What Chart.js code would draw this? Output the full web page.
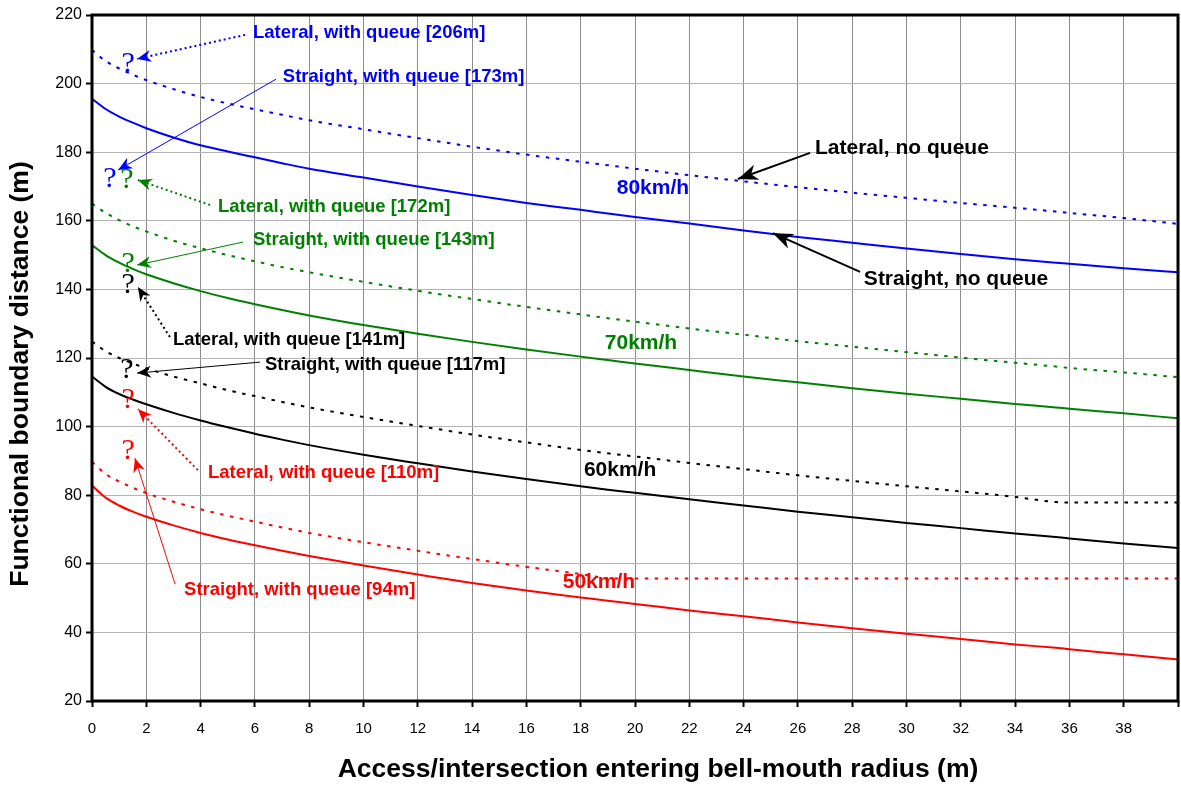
<!DOCTYPE html>
<html>
<head>
<meta charset="utf-8">
<script src="https://cdn.jsdelivr.net/npm/chart.js@4.4.1/dist/chart.umd.min.js"></script>
<style>
  html, body { margin: 0; padding: 0; background: #fff; }
  #c { display: block; }
</style>
</head>
<body>
<canvas id="c" width="1181" height="785"></canvas>
<script>
// ---- DATA ----
const xs = [0,0.5,1,1.5,2,3,4,5,6,7,8,10,12,14,16,18,19,20,22,24,26,28,30,32,34,35.5,36,38,40];

const straight80 = [195.6,192.6,190.4,188.6,187.0,184.3,182.0,180.2,178.5,176.8,175.2,172.6,170.0,167.5,165.2,163.2,162.1,161.1,159.2,157.2,155.3,153.6,151.9,150.3,148.8,147.8,147.5,146.2,145.0];
const lateral80  = [209.8,206.6,204.4,202.6,201.0,198.4,196.1,194.2,192.5,190.9,189.3,186.7,184.1,181.6,179.3,177.2,176.2,175.2,173.3,171.5,169.8,168.2,166.7,165.2,163.8,162.7,162.3,160.8,159.1];
const straight70 = [152.9,150.0,147.8,146.0,144.4,141.8,139.5,137.5,135.7,134.0,132.4,129.6,127.1,124.7,122.5,120.4,119.4,118.4,116.5,114.6,112.9,111.2,109.6,108.1,106.6,105.6,105.2,103.9,102.4];
const lateral70  = [165.0,162.3,160.2,158.4,156.9,154.2,152.0,150.0,148.2,146.5,145.0,142.2,139.6,137.2,134.9,132.7,131.6,130.6,128.6,126.8,124.9,123.3,121.7,120.1,118.6,117.5,117.1,115.8,114.4];
const straight60 = [114.6,111.6,109.5,107.9,106.5,104.0,101.8,99.8,97.9,96.2,94.6,91.8,89.3,86.9,84.7,82.6,81.6,80.7,78.8,77.0,75.2,73.6,71.9,70.4,68.8,67.8,67.4,65.9,64.6];
const lateral60  = [124.8,122.0,120.0,118.4,117.0,114.6,112.6,110.6,108.9,107.2,105.6,102.8,100.2,97.7,95.4,93.2,92.2,91.3,89.4,87.6,85.8,84.2,82.6,81.1,79.5,78.0,77.9,77.9,77.9];
const straight50 = [82.8,79.3,77.0,75.2,73.7,71.2,69.0,67.1,65.4,63.8,62.3,59.5,56.9,54.4,52.2,50.2,49.2,48.3,46.4,44.7,42.9,41.2,39.6,38.1,36.5,35.5,35.1,33.6,32.1];
const lateral50  = [89.7,86.2,84.0,82.2,80.6,78.1,75.9,74.0,72.3,70.6,69.0,66.3,63.8,61.4,59.1,57.0,55.8,55.7,55.7,55.7,55.7,55.7,55.7,55.7,55.7,55.7,55.7,55.7,55.7];

const xTickValues = [0,2,4,6,8,10,12,14,16,18,20,22,24,26,28,30,32,34,36,38];
const yTickValues = [20,40,60,80,100,120,140,160,180,200,220];

const xTitle = 'Access/intersection entering bell-mouth radius (m)';
const yTitle = 'Functional boundary distance (m)';

// ---- ANNOTATIONS (in data coordinates) ----
const BLUE = '#0000ff', GREEN = '#008000', BLACK = '#000000', RED = '#ff0000';
const queueNotes = [
  { text: 'Lateral, with queue [206m]',  color: BLUE,  lx: 5.93, ly: 214.75, fx: 5.64, fy: 214.2, tx: 1.66, ty: 207.2, dotted: true,  qx: 1.33, qy: 206.3 },
  { text: 'Straight, with queue [173m]', color: BLUE,  lx: 7.03, ly: 201.9,  fx: 6.78, fy: 201.3, tx: 0.96, ty: 174.8, dotted: false, qx: 0.66, qy: 172.8 },
  { text: 'Lateral, with queue [172m]',  color: GREEN, lx: 4.64, ly: 164.0,  fx: 4.35, fy: 164.6, tx: 1.69, ty: 171.9, dotted: true,  qx: 1.29, qy: 172.5 },
  { text: 'Straight, with queue [143m]', color: GREEN, lx: 5.93, ly: 154.4,  fx: 5.56, fy: 153.8, tx: 1.66, ty: 147.1, dotted: false, qx: 1.33, qy: 148.0 },
  { text: 'Lateral, with queue [141m]',  color: BLACK, lx: 2.98, ly: 125.2,  fx: 2.87, fy: 126.1, tx: 1.69, ty: 140.7, dotted: true,  qx: 1.33, qy: 141.9 },
  { text: 'Straight, with queue [117m]', color: BLACK, lx: 6.37, ly: 118.0,  fx: 6.19, fy: 118.8, tx: 1.66, ty: 115.6, dotted: false, qx: 1.29, qy: 117.1 },
  { text: 'Lateral, with queue [110m]',  color: RED,   lx: 4.27, ly: 86.5,   fx: 3.90, fy: 87.3,  tx: 1.69, ty: 105.1, dotted: true,  qx: 1.33, qy: 108.3 },
  { text: 'Straight, with queue [94m]',  color: RED,   lx: 3.39, ly: 52.4,   fx: 3.06, fy: 54.1,  tx: 1.58, ty: 90.8,  dotted: false, qx: 1.33, qy: 93.5 }
];
const noQueueNotes = [
  { text: 'Lateral, no queue',  lx: 26.63, ly: 181.2, fx: 26.45, fy: 179.8, tx: 23.79, ty: 172.2 },
  { text: 'Straight, no queue', lx: 28.43, ly: 143.0, fx: 28.29, fy: 145.1, tx: 25.08, ty: 156.4 }
];
const speedLabels = [
  { text: '80km/h', color: BLUE,  x: 20.66, y: 169.6 },
  { text: '70km/h', color: GREEN, x: 20.22, y: 124.4 },
  { text: '60km/h', color: BLACK, x: 19.45, y: 87.3 },
  { text: '50km/h', color: RED,   x: 18.67, y: 54.7 }
];

const FONT = '"Liberation Sans", Arial, Helvetica, sans-serif';

function series(vals, color, dotted) {
  return {
    data: xs.map((x, i) => ({ x: x, y: vals[i] })),
    borderColor: color,
    borderWidth: 2,
    borderDash: dotted ? [3.5, 6.5] : [],
    pointRadius: 0,
    fill: false,
    cubicInterpolationMode: 'monotone'
  };
}

function arrowHead(ctx, x1, y1, x2, y2, L, W, color) {
  const a = Math.atan2(y2 - y1, x2 - x1);
  const c = Math.cos(a), s = Math.sin(a);
  ctx.save();
  ctx.setLineDash([]);
  ctx.fillStyle = color;
  ctx.beginPath();
  ctx.moveTo(x2, y2);
  ctx.lineTo(x2 - L * c - W * s, y2 - L * s + W * c);
  ctx.lineTo(x2 - 0.7 * L * c, y2 - 0.7 * L * s);
  ctx.lineTo(x2 - L * c + W * s, y2 - L * s - W * c);
  ctx.closePath();
  ctx.fill();
  ctx.restore();
}

const annoPlugin = {
  id: 'anno',
  afterDatasetsDraw(chart) {
    const ctx = chart.ctx;
    const xs_ = chart.scales.x, ys_ = chart.scales.y;
    const ca = chart.chartArea;
    const X = v => xs_.getPixelForValue(v), Y = v => ys_.getPixelForValue(v);
    ctx.save();

    // frame
    ctx.strokeStyle = '#000';
    ctx.lineWidth = 3;
    ctx.setLineDash([]);
    ctx.strokeRect(ca.left, ca.top, ca.right - ca.left, ca.bottom - ca.top);

    // queue notes
    queueNotes.forEach(n => {
      const x1 = X(n.fx), y1 = Y(n.fy), x2 = X(n.tx), y2 = Y(n.ty);
      ctx.strokeStyle = n.color;
      if (n.dotted) { ctx.lineWidth = 2; ctx.setLineDash([2, 3]); }
      else { ctx.lineWidth = 1; ctx.setLineDash([]); }
      ctx.beginPath(); ctx.moveTo(x1, y1); ctx.lineTo(x2, y2); ctx.stroke();
      ctx.setLineDash([]);
      arrowHead(ctx, x1, y1, x2, y2, 14, 6, n.color);
      ctx.fillStyle = n.color;
      ctx.font = 'bold 18.5px ' + FONT;
      ctx.textAlign = 'left'; ctx.textBaseline = 'middle';
      ctx.fillText(n.text, X(n.lx), Y(n.ly));
      ctx.font = '30px "Liberation Serif", "Times New Roman", serif';
      ctx.textAlign = 'center';
      ctx.fillText('?', X(n.qx), Y(n.qy) + 2);
    });

    // no-queue notes
    noQueueNotes.forEach(n => {
      const x1 = X(n.fx), y1 = Y(n.fy), x2 = X(n.tx), y2 = Y(n.ty);
      ctx.strokeStyle = '#000'; ctx.lineWidth = 2; ctx.setLineDash([]);
      ctx.beginPath(); ctx.moveTo(x1, y1); ctx.lineTo(x2, y2); ctx.stroke();
      arrowHead(ctx, x1, y1, x2, y2, 20, 8, '#000');
      ctx.fillStyle = '#000';
      ctx.font = 'bold 21px ' + FONT;
      ctx.textAlign = 'left'; ctx.textBaseline = 'middle';
      ctx.fillText(n.text, X(n.lx), Y(n.ly));
    });

    // speed labels
    speedLabels.forEach(s => {
      ctx.fillStyle = s.color;
      ctx.font = 'bold 21px ' + FONT;
      ctx.textAlign = 'center'; ctx.textBaseline = 'middle';
      ctx.fillText(s.text, X(s.x), Y(s.y));
    });

    // axis titles
    ctx.fillStyle = '#000';
    ctx.font = 'bold 26.5px ' + FONT;
    ctx.textAlign = 'center'; ctx.textBaseline = 'middle';
    ctx.fillText(xTitle, 658, 770);
    ctx.translate(21, 374);
    ctx.rotate(-Math.PI / 2);
    ctx.fillText(yTitle, 0, 0);
    ctx.restore();
  }
};

new Chart(document.getElementById('c'), {
  type: 'line',
  data: {
    datasets: [
      series(straight80, BLUE, false),
      series(lateral80, BLUE, true),
      series(straight70, GREEN, false),
      series(lateral70, GREEN, true),
      series(straight60, BLACK, false),
      series(lateral60, BLACK, true),
      series(straight50, RED, false),
      series(lateral50, RED, true)
    ]
  },
  options: {
    responsive: false,
    animation: false,
    devicePixelRatio: 1,
    layout: { padding: { left: 0, right: 3, top: 15, bottom: 0 } },
    plugins: { legend: { display: false }, tooltip: { enabled: false } },
    scales: {
      x: {
        type: 'linear',
        min: 0, max: 40,
        afterBuildTicks: s => { s.ticks = xTickValues.concat([40]).map(v => ({ value: v })); },
        afterFit: s => { s.height = 84; s.paddingLeft = 0; s.paddingRight = 0; },
        grid: { color: '#8c8c8c', lineWidth: 1, tickColor: '#000', tickLength: 6, tickWidth: 2 },
        border: { display: false },
        ticks: {
          autoSkip: false, maxRotation: 0, padding: 13,
          color: '#000', font: { family: FONT, size: 15 },
          callback: v => (xTickValues.includes(v) ? String(v) : '')
        },
        title: { display: false }
      },
      y: {
        type: 'linear',
        min: 20, max: 220,
        afterBuildTicks: s => { s.ticks = yTickValues.map(v => ({ value: v })); },
        afterFit: s => { s.width = 92; },
        grid: { color: '#b4b4b4', lineWidth: 1, tickColor: '#000', tickLength: 6, tickWidth: 2 },
        border: { display: false },
        ticks: { padding: 4, color: '#000', font: { family: FONT, size: 16 } }
      }
    }
  },
  plugins: [annoPlugin]
});
</script>
</body>
</html>
